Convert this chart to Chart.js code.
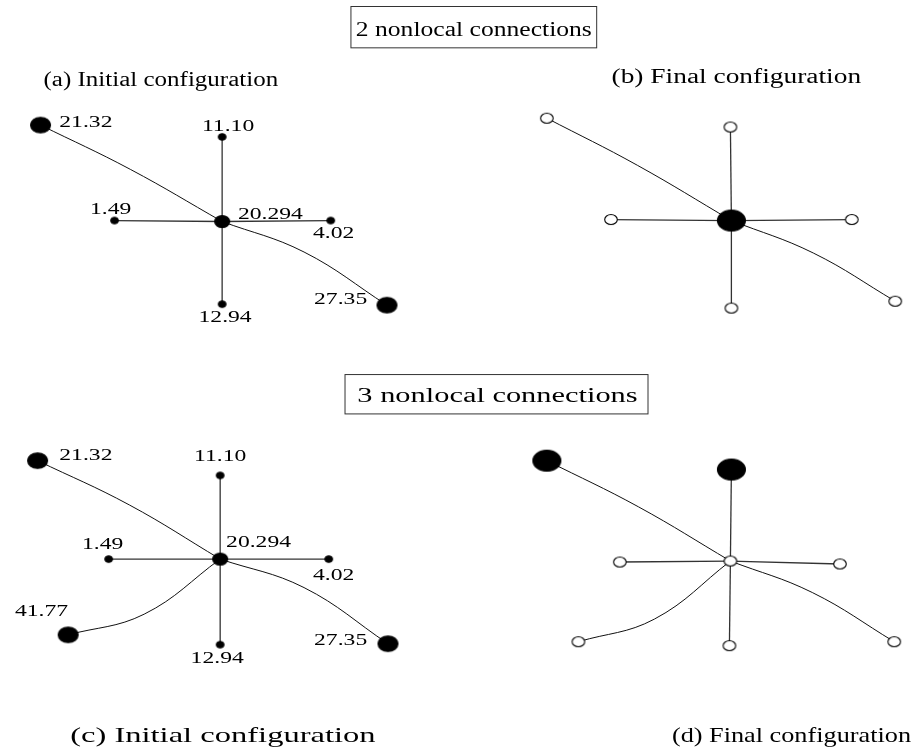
<!DOCTYPE html>
<html>
<head>
<meta charset="utf-8">
<script src="https://cdn.jsdelivr.net/npm/chart.js@4.4.0/dist/chart.umd.min.js"></script>
<style>
  body { margin: 0; background: #fff; }
  #wrap { width: 918px; height: 755px; }
</style>
</head>
<body>
<div id="wrap"><canvas id="fig" width="918" height="755"></canvas></div>
<script>
// node order in every panel: hub, top, left, right, bottom, upper-left, lower-right, lower-left
const nodeValues = ['20.294', '11.10', '1.49', '4.02', '12.94', '21.32', '27.35', '41.77'];

// (a) initial / (b) final, 2 nonlocal connections
const aX = [219, 219, 110, 329, 219, 35, 386];
const aY = [219, 133, 218, 218, 303, 121, 304];
const bX = [735, 734, 613, 857, 735, 548, 901];
const bY = [218, 123, 217, 217, 307, 114, 300];

// (c) initial / (d) final, 3 nonlocal connections
const cX = [217, 217, 104, 327, 217, 32, 387, 63];
const cY = [562, 477, 562, 562, 649, 462, 648, 639];
const dX = [734, 735, 622, 845, 733, 548, 900, 580];
const dY = [564, 471, 565, 567, 650, 462, 646, 646];

// a point read on each nonlocal (curved) link, for nodes 5, 6, 7
const aBendX = [126, 302];
const aBendY = [166, 250];
const bBendX = [640, 818];
const bBendY = [162, 251];
const cBendX = [125, 302, 140];
const cBendY = [507, 591, 618];
const dBendX = [641, 817, 657];
const dBendY = [509, 596, 623];

// node kinds
const aKinds = ['hub', 'dot', 'dot', 'dot', 'dot', 'big', 'big'];
const bKinds = ['bigFill', 'open', 'open', 'open', 'open', 'open', 'open'];
const cKinds = ['hub', 'dot', 'dot', 'dot', 'dot', 'big', 'big', 'big'];
const dKinds = ['open', 'bigFill', 'open', 'open', 'open', 'bigFill', 'open', 'open'];

// ---- styles ----
function ellipse(rx, ry, filled) {
  const c = document.createElement('canvas');
  c.width = Math.ceil(2 * rx + 3);
  c.height = Math.ceil(2 * ry + 3);
  const g = c.getContext('2d');
  g.beginPath();
  g.ellipse(c.width / 2, c.height / 2, rx, ry, 0, 0, 2 * Math.PI);
  g.fillStyle = filled ? '#000' : '#fff';
  g.fill();
  g.lineWidth = 1.1;
  g.strokeStyle = '#000';
  g.stroke();
  return c;
}
const nodeStyles = {
  hub: ellipse(7.5, 6, true),
  dot: ellipse(3.8, 3.3, true),
  big: ellipse(10, 7.8, true),
  open: ellipse(6.3, 5, false),
  bigFill: ellipse(14, 10.5, true)
};

// label placement for panels (a) and (c): [dx, dy, align]
const aLabelPos = [[16, -7, 'left'], [6, -11, 'center'], [-4, -11, 'center'], [3, 13, 'center'],
  [3, 13, 'center'], [19, -3, 'left'], [-20, -6, 'right']];
const cLabelPos = [[6, -17, 'left'], [0, -19, 'center'], [-6, -15, 'center'], [5, 17, 'center'],
  [-3, 14, 'center'], [22, -5, 'left'], [-21, -3, 'right'], [-27, -24, 'center']];

const serif = '"Liberation Serif", "Times New Roman", serif';

function panelDatasets(xs, ys, kinds, bendX, bendY) {
  const sets = [];
  for (let i = 1; i <= 4; i++) {
    sets.push({
      type: 'line', showLine: true, order: 2, pointRadius: 0,
      borderColor: '#333', borderWidth: 1.3, tension: 0,
      data: [{ x: xs[0], y: ys[0] }, { x: xs[i], y: ys[i] }]
    });
  }
  for (let i = 5; i < xs.length; i++) {
    sets.push({
      type: 'line', showLine: true, order: 2, pointRadius: 0,
      borderColor: '#111', borderWidth: 1, tension: 0.4,
      data: [{ x: xs[i], y: ys[i] }, { x: bendX[i - 5], y: bendY[i - 5] }, { x: xs[0], y: ys[0] }]
    });
  }
  sets.push({
    type: 'scatter', order: 0, pointRadius: 5,
    pointStyle: ctx => nodeStyles[kinds[ctx.dataIndex]],
    data: xs.map((x, i) => ({ x: x, y: ys[i] }))
  });
  return sets;
}

function stretchText(ctx, str, x, y, size, sx, align, baseline) {
  ctx.save();
  ctx.font = size + 'px ' + serif;
  ctx.fillStyle = '#000';
  ctx.textAlign = align;
  ctx.textBaseline = baseline;
  ctx.translate(x, y);
  ctx.scale(sx, 1);
  ctx.fillText(str, 0, 0);
  ctx.restore();
}

const annotations = {
  id: 'annotations',
  afterDatasetsDraw(chart) {
    const ctx = chart.ctx;
    const sx = v => chart.scales.x.getPixelForValue(v);
    const sy = v => chart.scales.y.getPixelForValue(v);

    const labelPanel = (xs, ys, pos) => {
      xs.forEach((x, i) => {
        const p = pos[i];
        stretchText(ctx, nodeValues[i], sx(x + p[0]), sy(ys[i] + p[1]), 17.5, 1.35, p[2], 'middle');
      });
    };
    labelPanel(aX, aY, aLabelPos);
    labelPanel(cX, cY, cLabelPos);

    // boxed headings
    ctx.save();
    ctx.strokeStyle = '#333';
    ctx.lineWidth = 1;
    ctx.strokeRect(sx(349) + 0.5, sy(0) + 0.5, sx(598) - sx(349), sy(42) - sy(0));
    ctx.strokeRect(sx(343) + 0.5, sy(374) + 0.5, sx(650) - sx(343), sy(414) - sy(374));
    ctx.restore();
    stretchText(ctx, '2 nonlocal connections', sx(474), sy(30), 20, 1.28, 'center', 'alphabetic');
    stretchText(ctx, '3 nonlocal connections', sx(498), sy(402), 20, 1.52, 'center', 'alphabetic');

    // panel captions
    stretchText(ctx, '(a) Initial configuration', sx(38), sy(81), 20, 1.25, 'left', 'alphabetic');
    stretchText(ctx, '(b) Final configuration', sx(740), sy(78), 20, 1.37, 'center', 'alphabetic');
    stretchText(ctx, '(c) Initial configuration', sx(65), sy(748), 21, 1.55, 'left', 'alphabetic');
    stretchText(ctx, '(d) Final configuration', sx(917), sy(748), 21, 1.25, 'right', 'alphabetic');
  }
};

new Chart(document.getElementById('fig'), {
  type: 'scatter',
  data: {
    datasets: [
      ...panelDatasets(aX, aY, aKinds, aBendX, aBendY),
      ...panelDatasets(bX, bY, bKinds, bBendX, bBendY),
      ...panelDatasets(cX, cY, cKinds, cBendX, cBendY),
      ...panelDatasets(dX, dY, dKinds, dBendX, dBendY)
    ]
  },
  options: {
    responsive: false,
    devicePixelRatio: 1,
    animation: false,
    layout: { padding: 0 },
    scales: {
      x: { type: 'linear', min: 0, max: 918, display: false },
      y: { type: 'linear', min: 0, max: 755, reverse: true, display: false }
    },
    plugins: { legend: { display: false }, tooltip: { enabled: false } }
  },
  plugins: [annotations]
});
</script>
</body>
</html>
